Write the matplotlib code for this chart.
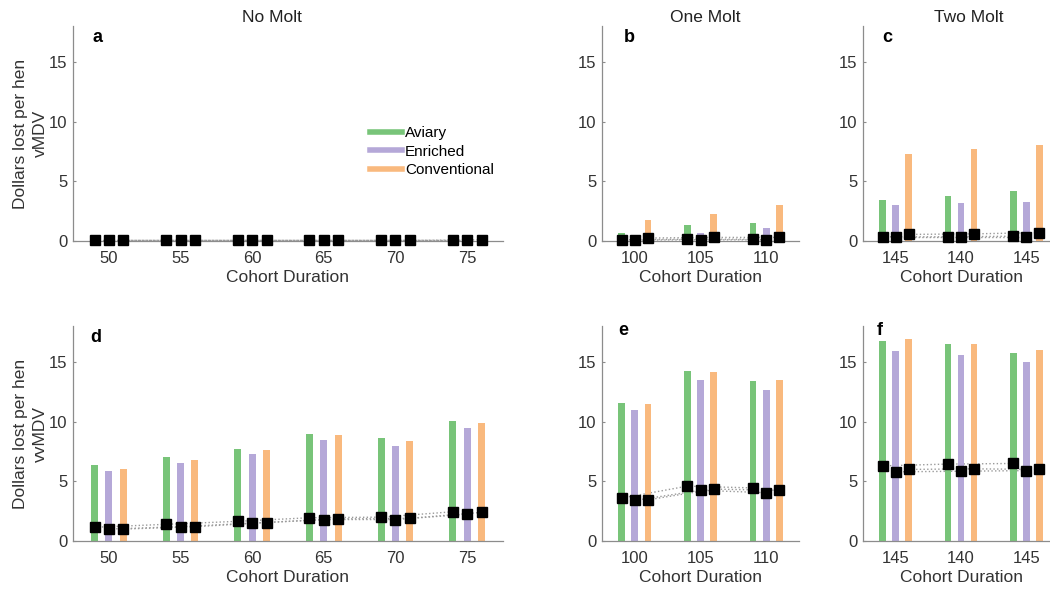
import matplotlib
matplotlib.use('Agg')
import matplotlib.pyplot as plt
import numpy as np
from matplotlib.lines import Line2D

plt.rcParams['font.family'] = ['Liberation Sans', 'DejaVu Sans']

# tick labels per molt scheme
labels_nomolt = ['50', '55', '60', '65', '70', '75']
labels_onemolt = ['100', '105', '110']
labels_twomolt = ['145', '140', '145']

housing = ['Aviary', 'Enriched', 'Conventional']
colors = ['#78c479', '#b5a8d8', '#f9b97e']

# vMDV - bars (Aviary, Enriched, Conventional)
a_aviary = [0, 0, 0, 0, 0, 0]
a_enriched = [0, 0, 0, 0, 0, 0]
a_conv = [0, 0, 0, 0, 0, 0]
a_pts_aviary = [0.05, 0.05, 0.05, 0.05, 0.05, 0.05]
a_pts_enriched = [0.05, 0.05, 0.05, 0.05, 0.05, 0.05]
a_pts_conv = [0.05, 0.05, 0.05, 0.05, 0.05, 0.1]

b_aviary = [0.65, 1.3, 1.55]
b_enriched = [0.2, 0.65, 1.1]
b_conv = [1.8, 2.3, 3.0]
b_pts_aviary = [0.1, 0.15, 0.15]
b_pts_enriched = [0.08, 0.1, 0.1]
b_pts_conv = [0.25, 0.3, 0.3]

c_aviary = [3.45, 3.8, 4.2]
c_enriched = [3.05, 3.15, 3.3]
c_conv = [7.3, 7.75, 8.05]
c_pts_aviary = [0.35, 0.35, 0.4]
c_pts_enriched = [0.3, 0.3, 0.3]
c_pts_conv = [0.55, 0.6, 0.7]

# vvMDV
d_aviary = [6.35, 7.05, 7.7, 9.0, 8.65, 10.05]
d_enriched = [5.85, 6.55, 7.3, 8.45, 7.95, 9.45]
d_conv = [6.05, 6.75, 7.6, 8.85, 8.35, 9.9]
d_pts_aviary = [1.15, 1.4, 1.65, 1.95, 2.0, 2.45]
d_pts_enriched = [1.0, 1.2, 1.5, 1.8, 1.8, 2.25]
d_pts_conv = [1.0, 1.2, 1.55, 1.85, 1.9, 2.4]

e_aviary = [11.55, 14.25, 13.45]
e_enriched = [10.95, 13.5, 12.65]
e_conv = [11.5, 14.2, 13.5]
e_pts_aviary = [3.6, 4.6, 4.45]
e_pts_enriched = [3.4, 4.25, 4.05]
e_pts_conv = [3.45, 4.35, 4.25]

f_aviary = [16.8, 16.5, 15.8]
f_enriched = [15.95, 15.6, 15.0]
f_conv = [16.95, 16.55, 16.0]
f_pts_aviary = [6.3, 6.45, 6.5]
f_pts_enriched = [5.8, 5.85, 5.9]
f_pts_conv = [6.0, 6.05, 6.0]

W, H = 1050, 592
fig = plt.figure(figsize=(W / 100, H / 100), dpi=100)


def px_axes(x0, x1, ybot):
    # axes rect from pixel coords (top-origin), height fixed for ylim 0-18
    h = 214.7
    return fig.add_axes([x0 / W, (H - ybot) / H, (x1 - x0) / W, h / H])


def panel(ax, ticklabels, bars, pts, letter, lx, ly, bw):
    n = len(ticklabels)
    x = np.arange(1, n + 1)
    offs = [-0.2, 0, 0.2]
    for i in range(3):
        ax.plot(x + offs[i], pts[i], ls=':', color='#9a9a9a', lw=1.0, zorder=1)
    for i in range(3):
        ax.bar(x + offs[i], bars[i], width=bw, color=colors[i], zorder=2, linewidth=0)
    for i in range(3):
        ax.plot(x + offs[i], pts[i], ls='none', marker='s', ms=7.8, color='black',
                zorder=3, clip_on=False)
    ax.set_xlim(0.5, n + 0.5)
    ax.set_ylim(0, 18)
    ax.set_xticks(x)
    ax.set_xticklabels(ticklabels)
    ax.set_yticks([0, 5, 10, 15])
    for s in ['top', 'right']:
        ax.spines[s].set_visible(False)
    for s in ['left', 'bottom']:
        ax.spines[s].set_color('#8c8c8c')
        ax.spines[s].set_linewidth(0.9)
    ax.tick_params(axis='x', length=0, pad=7, labelsize=12, labelcolor='#333333')
    ax.tick_params(axis='y', length=2, direction='in', color='#8c8c8c', pad=4,
                   labelsize=12, labelcolor='#333333')
    ax.set_xlabel('Cohort Duration', fontsize=12.5, color='#333333')
    ax.xaxis.set_label_coords(0.5, -0.135)
    ax.xaxis.label.set_va('top')
    ax.text(lx, ly, letter, transform=ax.transAxes, fontsize=13, fontweight='bold',
            va='center', ha='left')


ax_a = px_axes(73, 503, 241)
ax_b = px_axes(602, 799, 241)
ax_c = px_axes(863, 1059, 241)
ax_d = px_axes(73, 503, 541)
ax_e = px_axes(602, 799, 541)
ax_f = px_axes(863, 1059, 541)

panel(ax_a, labels_nomolt, [a_aviary, a_enriched, a_conv],
      [a_pts_aviary, a_pts_enriched, a_pts_conv], 'a', 0.045, 0.95, 0.095)
panel(ax_b, labels_onemolt, [b_aviary, b_enriched, b_conv],
      [b_pts_aviary, b_pts_enriched, b_pts_conv], 'b', 0.11, 0.95, 0.105)
panel(ax_c, labels_twomolt, [c_aviary, c_enriched, c_conv],
      [c_pts_aviary, c_pts_enriched, c_pts_conv], 'c', 0.1, 0.95, 0.105)
panel(ax_d, labels_nomolt, [d_aviary, d_enriched, d_conv],
      [d_pts_aviary, d_pts_enriched, d_pts_conv], 'd', 0.04, 0.95, 0.095)
panel(ax_e, labels_onemolt, [e_aviary, e_enriched, e_conv],
      [e_pts_aviary, e_pts_enriched, e_pts_conv], 'e', 0.08, 0.98, 0.105)
panel(ax_f, labels_twomolt, [f_aviary, f_enriched, f_conv],
      [f_pts_aviary, f_pts_enriched, f_pts_conv], 'f', 0.07, 0.98, 0.105)

for ax, name in [(ax_a, 'vMDV'), (ax_d, 'vvMDV')]:
    ax.set_ylabel('Dollars lost per hen\n' + name, fontsize=12.5, color='#333333',
                  linespacing=1.45)
    ax.yaxis.set_label_coords(-0.058, 0.5)

handles = [Line2D([0], [0], color=c, lw=4) for c in colors]
ax_a.legend(handles, housing, loc='upper left', bbox_to_anchor=(0.69, 0.535),
            frameon=False, fontsize=11, handlelength=2.1, handletextpad=0.2,
            labelspacing=0.3, borderpad=0, borderaxespad=0)

fig.text(272 / W, 1 - 18 / H, 'No Molt', ha='center', va='center', fontsize=12.5,
         color='#222222')
fig.text(705 / W, 1 - 18 / H, 'One Molt', ha='center', va='center', fontsize=12.5,
         color='#222222')
fig.text(969 / W, 1 - 18 / H, 'Two Molt', ha='center', va='center', fontsize=12.5,
         color='#222222')

fig.savefig('out.png', dpi=100)
